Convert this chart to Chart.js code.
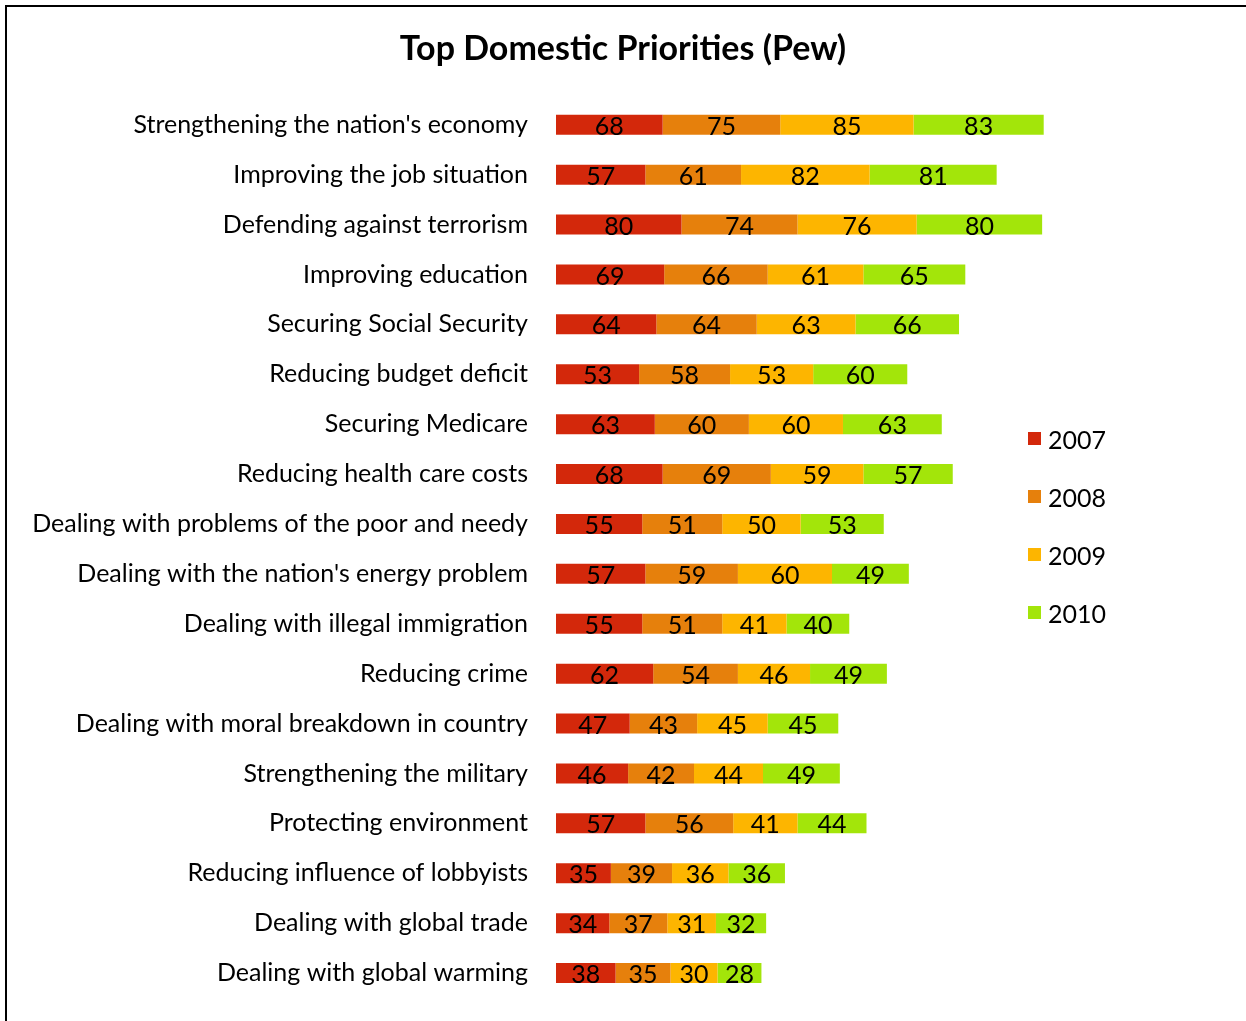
<!DOCTYPE html>
<html>
<head>
<meta charset="utf-8">
<script src="https://cdn.jsdelivr.net/npm/chart.js@4"></script>
<style>
  html, body { margin: 0; padding: 0; background: #fff; overflow: hidden; }
  #wrap { position: relative; width: 1246px; height: 1021px; }
  #frame {
    position: absolute; left: 5px; top: 5px; width: 1300px; height: 1100px;
    border-left: 2px solid #000; border-top: 2px solid #000; pointer-events: none;
  }
  canvas { position: absolute; left: 0; top: 0; }
</style>
</head>
<body>
<div id="wrap">
  <canvas id="chart" width="1246" height="1021"></canvas>
  <div id="frame"></div>
</div>
<script>
// 資料：各議題 2007–2010 的百分比（堆疊橫條）
const categories = [
  "Strengthening the nation's economy",
  "Improving the job situation",
  "Defending against terrorism",
  "Improving education",
  "Securing Social Security",
  "Reducing budget deficit",
  "Securing Medicare",
  "Reducing health care costs",
  "Dealing with problems of the poor and needy",
  "Dealing with the nation's energy problem",
  "Dealing with illegal immigration",
  "Reducing crime",
  "Dealing with moral breakdown in country",
  "Strengthening the military",
  "Protecting environment",
  "Reducing influence of lobbyists",
  "Dealing with global trade",
  "Dealing with global warming",
];
const years = ["2007", "2008", "2009", "2010"];
const values2007 = [68, 57, 80, 69, 64, 53, 63, 68, 55, 57, 55, 62, 47, 46, 57, 35, 34, 38];
const values2008 = [75, 61, 74, 66, 64, 58, 60, 69, 51, 59, 51, 54, 43, 42, 56, 39, 37, 35];
const values2009 = [85, 82, 76, 61, 63, 53, 60, 59, 50, 60, 41, 46, 45, 44, 41, 36, 31, 30];
const values2010 = [83, 81, 80, 65, 66, 60, 63, 57, 53, 49, 40, 49, 45, 49, 44, 36, 32, 28];
const seriesColors = ["#d3280b", "#e6800c", "#fdb500", "#a3e50a"];

const FONT = "Lato, 'DejaVu Sans', sans-serif";
const allValues = [values2007, values2008, values2009, values2010];

// 每段中央標數值
const segmentLabels = {
  id: "segmentLabels",
  afterDatasetsDraw(chart) {
    const ctx = chart.ctx;
    ctx.save();
    ctx.font = "25px " + FONT;
    ctx.fillStyle = "#000";
    ctx.textAlign = "center";
    ctx.textBaseline = "middle";
    chart.data.datasets.forEach((ds, di) => {
      chart.getDatasetMeta(di).data.forEach((bar, i) => {
        ctx.fillText(String(ds.data[i]), (bar.x + bar.base) / 2, bar.y + 2);
      });
    });
    ctx.restore();
  },
};

// 右側圖例
const sideLegend = {
  id: "sideLegend",
  afterDraw(chart) {
    const ctx = chart.ctx;
    ctx.save();
    ctx.font = "25px " + FONT;
    ctx.textAlign = "left";
    ctx.textBaseline = "middle";
    chart.data.datasets.forEach((ds, i) => {
      const top = 432 + i * 58;
      ctx.fillStyle = ds.backgroundColor;
      ctx.fillRect(1028, top, 13, 13);
      ctx.fillStyle = "#000";
      ctx.fillText(ds.label, 1048, top + 9);
    });
    ctx.restore();
  },
};

new Chart(document.getElementById("chart").getContext("2d"), {
  type: "bar",
  data: {
    labels: categories,
    datasets: years.map((y, i) => ({
      label: y,
      data: allValues[i],
      backgroundColor: seriesColors[i],
      borderWidth: 0,
      barPercentage: 0.4,
      categoryPercentage: 1,
    })),
  },
  options: {
    indexAxis: "y",
    responsive: false,
    animation: false,
    layout: { padding: { top: 0, right: 0, bottom: 23, left: 0 } },
    plugins: {
      legend: { display: false },
      tooltip: { enabled: false },
      title: {
        display: true,
        text: "Top Domestic Priorities (Pew)",
        color: "#000",
        font: { family: FONT, size: 34, weight: "bold" },
        padding: { top: 29, bottom: 30 },
      },
    },
    scales: {
      x: { stacked: true, display: false, min: 0, max: 440 },
      y: {
        stacked: true,
        grid: { display: false, drawTicks: false },
        border: { display: false },
        ticks: { color: "#000", font: { family: FONT, size: 25 }, padding: 28, autoSkip: false },
        afterFit(scale) {
          scale.width = 556;
          scale.paddingTop = 0;
          scale.paddingBottom = 0;
        },
      },
    },
  },
  plugins: [segmentLabels, sideLegend],
});
</script>
</body>
</html>
